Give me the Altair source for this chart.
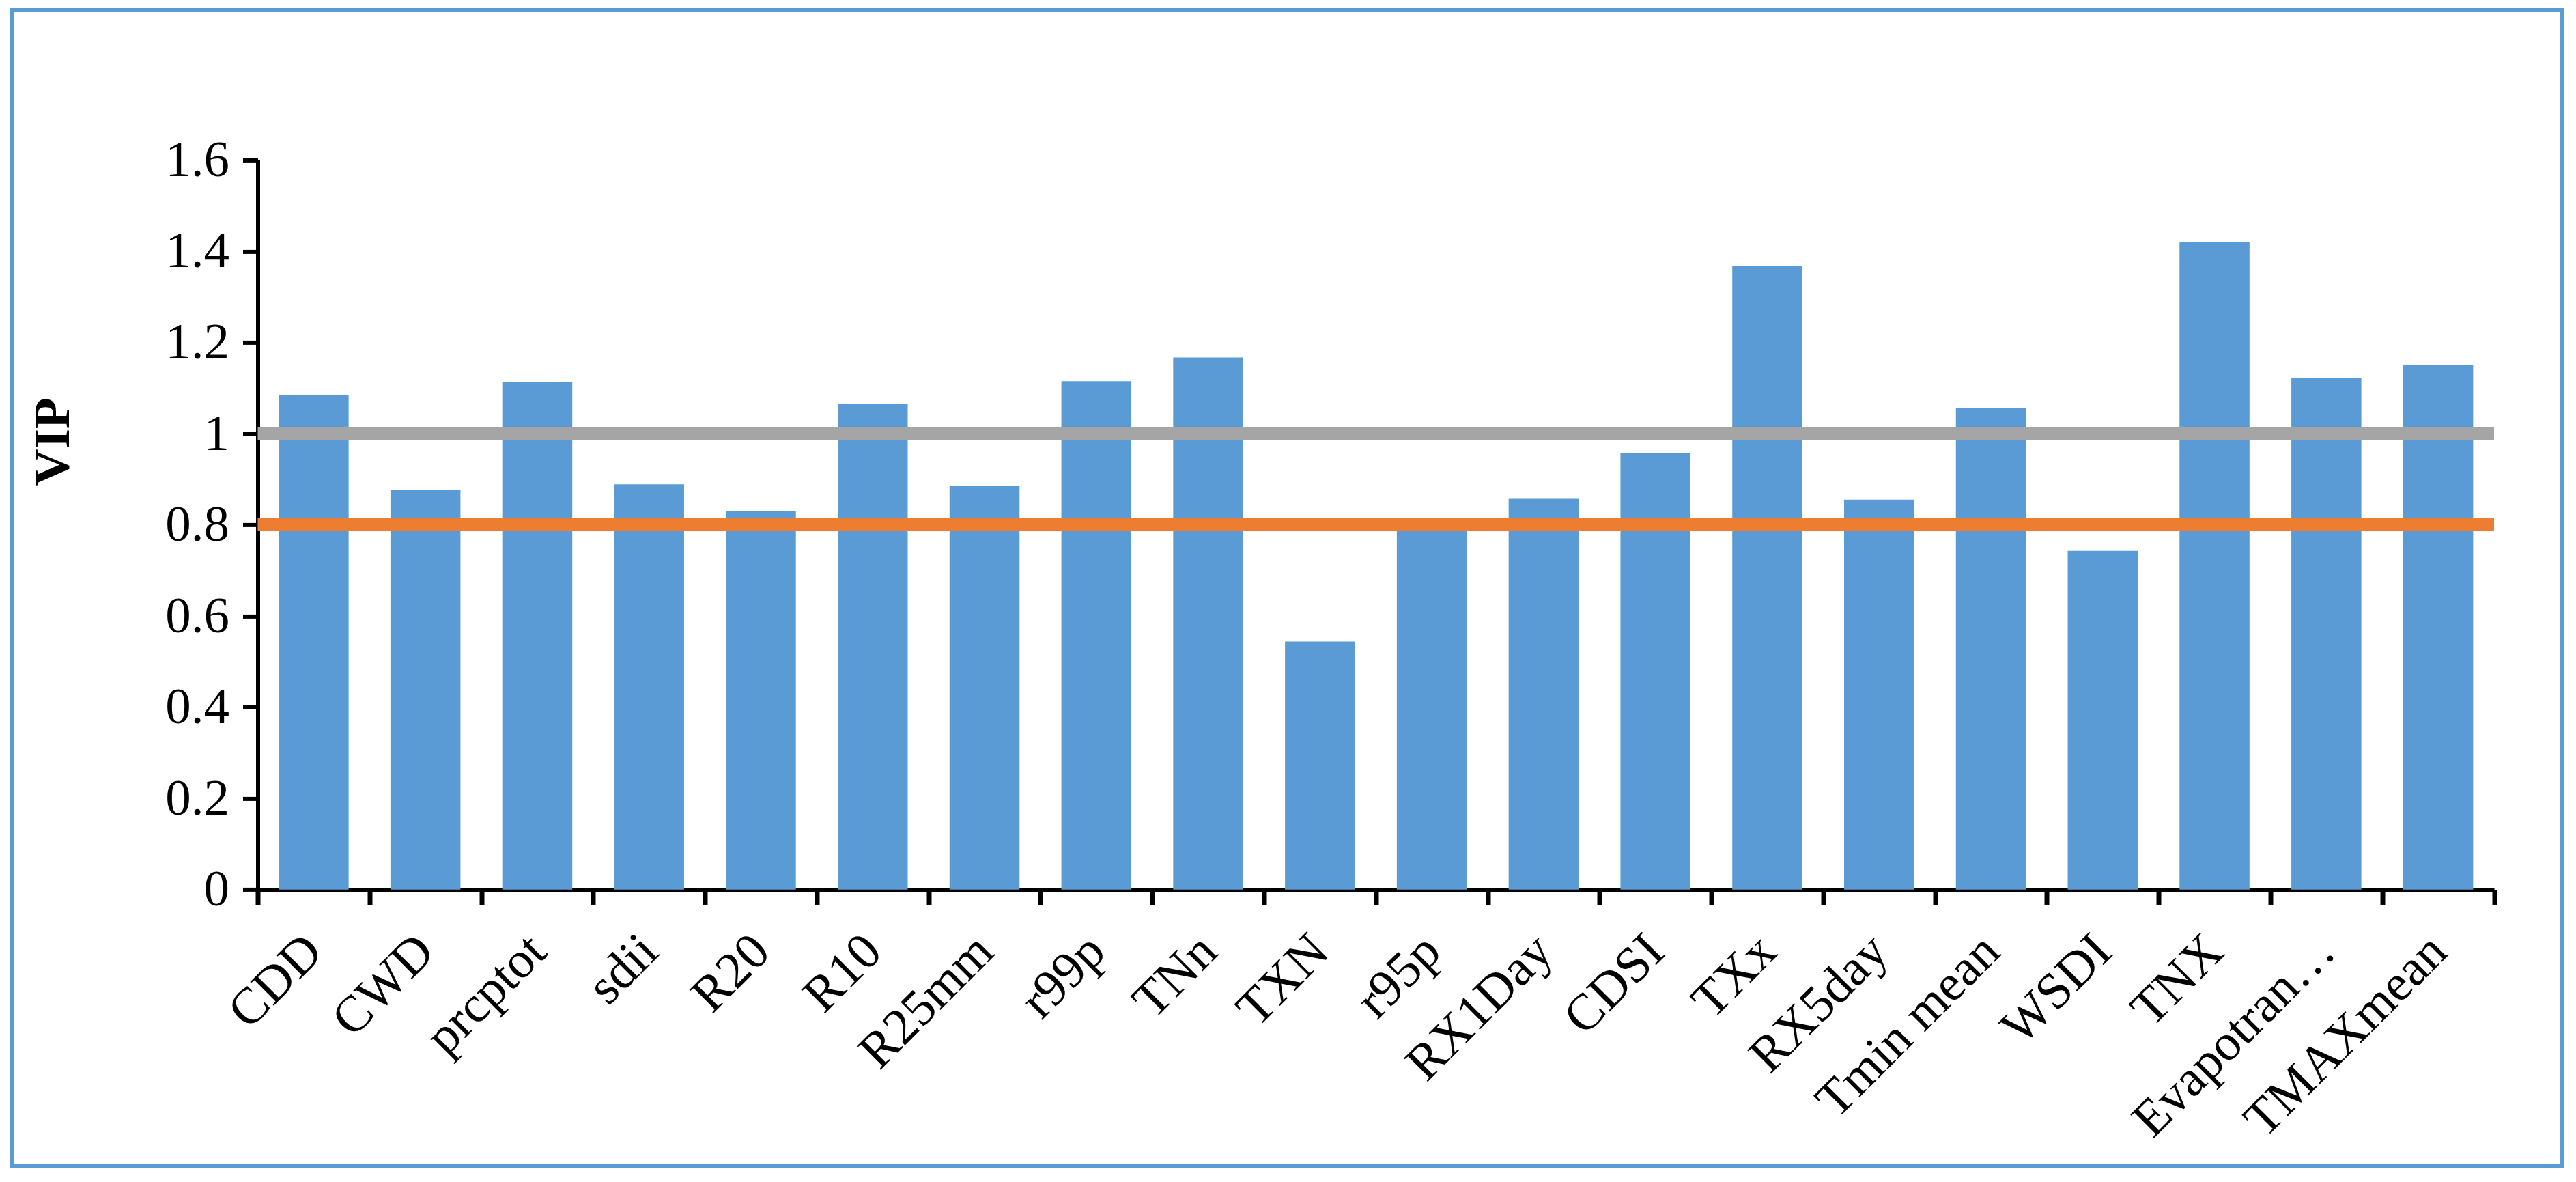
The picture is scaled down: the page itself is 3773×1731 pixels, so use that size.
import altair as alt
import pandas as pd

categories = ["CDD", "CWD", "prcptot", "sdii", "R20", "R10", "R25mm", "r99p", "TNn", "TXN",
              "r95p", "RX1Day", "CDSI", "TXx", "RX5day", "Tmin mean", "WSDI", "TNX",
              "Evapotran\u2026", "TMAXmean"]
vip = [1.084, 0.876, 1.114, 0.889, 0.831, 1.066, 0.885, 1.115, 1.167, 0.544,
       0.800, 0.857, 0.957, 1.368, 0.855, 1.057, 0.743, 1.421, 1.123, 1.150]
y_ticks = [0, 0.2, 0.4, 0.6, 0.8, 1.0, 1.2, 1.4, 1.6]
threshold_values = [1.0, 0.8]
threshold_colors = ["#A5A5A5", "#ED7D31"]

FONT = "Liberation Serif"
BAR = "#5B9BD5"

bars_df = pd.DataFrame({"cat": categories, "vip": vip})
lines_df = pd.DataFrame({"v": threshold_values, "c": threshold_colors})
frame_df = pd.DataFrame({"k": [0]})

W, H = 3275.5, 1068.4
PL, PT = 369.5, 226.4

x_enc = alt.X(
    "cat:N", sort=categories,
    scale=alt.Scale(paddingInner=0, paddingOuter=0),
    axis=alt.Axis(
        title=None, labelAngle=-45, labelAlign="right", labelBaseline="middle",
        labelFont=FONT, labelFontSize=75, labelColor="black", labelPadding=56,
        tickBand="extent", tickSize=22, tickWidth=7, tickColor="black",
        domainWidth=6.5, domainColor="black", labelLimit=0, labelOverlap=False,
    ),
)
y_enc = alt.Y(
    "vip:Q",
    scale=alt.Scale(domain=[0, 1.6], nice=False, zero=True),
    axis=alt.Axis(
        values=y_ticks, format="~g", grid=False,
        labelFont=FONT, labelFontSize=75, labelColor="black", labelPadding=20,
        tickSize=22, tickWidth=6, tickColor="black",
        domainWidth=6, domainColor="black",
        title="VIP", titleFont=FONT, titleFontSize=75, titleFontWeight="bold",
        titleColor="black", titleAngle=-90, titleAlign="center", titleBaseline="middle",
        titleX=-300, titleY=412,
    ),
)

bars = alt.Chart(bars_df).mark_bar(color=BAR, width=alt.RelativeBandSize(0.626)).encode(
    x=x_enc, y=y_enc
)

rules = alt.Chart(lines_df).mark_rule(strokeWidth=19).encode(
    y=alt.Y("v:Q"),
    color=alt.Color("c:N", scale=None),
)

frame = alt.Chart(frame_df).mark_rect(filled=False, stroke=BAR, strokeWidth=6).encode(
    x=alt.value(17 - 8 - PL), x2=alt.value(3752 - 8 - PL),
    y=alt.value(14 - 8 - PT), y2=alt.value(1708 - 8 - PT),
)

chart = alt.layer(frame, bars, rules).properties(
    width=W, height=H,
    autosize=alt.AutoSizeParams(type="none"),
    padding={"left": PL, "top": PT, "right": 3757 - PL - W, "bottom": 1715 - PT - H},
    background="white",
).configure_view(stroke=None)

chart.save("out.html", embed_options={"renderer": "svg", "actions": False})
